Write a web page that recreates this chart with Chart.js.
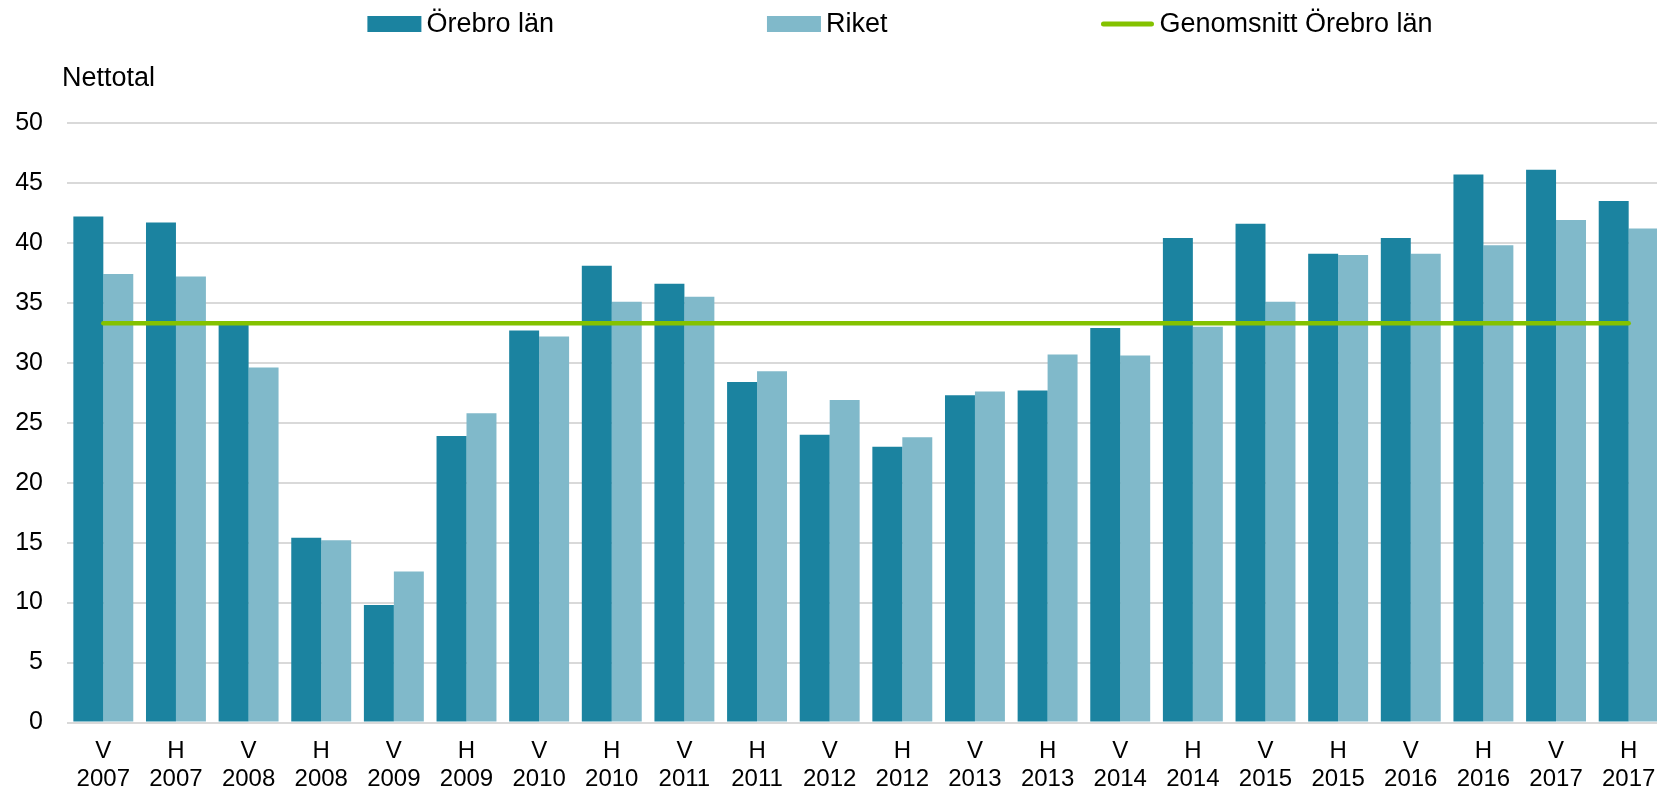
<!DOCTYPE html>
<html lang="sv">
<head>
<meta charset="utf-8">
<title>Nettotal – Örebro län och riket</title>
<script src="https://cdn.jsdelivr.net/npm/chart.js@4.4.1/dist/chart.umd.min.js"></script>
<style>
  html, body { margin: 0; padding: 0; background: #fff; overflow: hidden; }
  #chart { display: block; }
</style>
</head>
<body>
<canvas id="chart" width="1665" height="792"></canvas>
<script>
// Halvår (V = vår, H = höst) och år
const perioder = [
  ['V', '2007'], ['H', '2007'], ['V', '2008'], ['H', '2008'], ['V', '2009'], ['H', '2009'],
  ['V', '2010'], ['H', '2010'], ['V', '2011'], ['H', '2011'], ['V', '2012'], ['H', '2012'],
  ['V', '2013'], ['H', '2013'], ['V', '2014'], ['H', '2014'], ['V', '2015'], ['H', '2015'],
  ['V', '2016'], ['H', '2016'], ['V', '2017'], ['H', '2017']
];

const orebroLan = [42.2, 41.7, 33.3, 15.4, 9.8, 23.9, 32.7, 38.1, 36.6, 28.4, 24.0,
  23.0, 27.3, 27.7, 32.9, 40.4, 41.6, 39.1, 40.4, 45.7, 46.1, 43.5];

const riket = [37.4, 37.2, 29.6, 15.2, 12.6, 25.8, 32.2, 35.1, 35.5, 29.3, 26.9,
  23.8, 27.6, 30.7, 30.6, 33.0, 35.1, 39.0, 39.1, 39.8, 41.9, 41.2];

const genomsnittOrebro = [33.3, 33.3, 33.3, 33.3, 33.3, 33.3, 33.3, 33.3, 33.3, 33.3, 33.3,
  33.3, 33.3, 33.3, 33.3, 33.3, 33.3, 33.3, 33.3, 33.3, 33.3, 33.3];

const yMin = 0;
const yMax = 50;
const yStep = 5;

const FONT = '"Liberation Sans", Arial, sans-serif';

// Legend och "Nettotal" ritas för hand
const egenText = {
  id: 'egenText',
  afterDraw(chart) {
    const ctx = chart.ctx;
    ctx.save();
    ctx.font = '27px ' + FONT;
    ctx.fillStyle = '#000';
    ctx.textBaseline = 'middle';
    ctx.textAlign = 'left';

    ctx.fillText('Nettotal', 62, 79);

    const swatch = 54;
    const gap = 5;
    const between = 213;
    const items = chart.data.datasets.map(ds => ({
      text: ds.label,
      color: ds.type === 'line' ? ds.borderColor : ds.backgroundColor,
      line: ds.type === 'line',
      w: ctx.measureText(ds.label).width
    }));
    let total = 0;
    items.forEach((it, i) => {
      total += swatch + gap + it.w + (i > 0 ? between : 0);
    });
    let x = 900 - total / 2;
    const y = 24;
    items.forEach(it => {
      if (it.line) {
        ctx.strokeStyle = it.color;
        ctx.lineWidth = 5;
        ctx.lineCap = 'round';
        ctx.beginPath();
        ctx.moveTo(x + 3, y);
        ctx.lineTo(x + swatch - 3, y);
        ctx.stroke();
      } else {
        ctx.fillStyle = it.color;
        ctx.fillRect(x, y - 8, swatch, 16);
      }
      ctx.fillStyle = '#000';
      ctx.fillText(it.text, x + swatch + gap, y + 1);
      x += swatch + gap + it.w + between;
    });
    ctx.restore();
  }
};

const ctx = document.getElementById('chart').getContext('2d');
new Chart(ctx, {
  data: {
    labels: perioder,
    datasets: [
      {
        type: 'bar',
        label: 'Örebro län',
        data: orebroLan,
        backgroundColor: '#1b83a0',
        order: 1
      },
      {
        type: 'bar',
        label: 'Riket',
        data: riket,
        backgroundColor: '#80b9ca',
        order: 2
      },
      {
        type: 'line',
        label: 'Genomsnitt Örebro län',
        data: genomsnittOrebro,
        borderColor: '#84c200',
        borderWidth: 4.5,
        borderCapStyle: 'round',
        pointRadius: 0,
        fill: false,
        order: 0
      }
    ]
  },
  options: {
    responsive: false,
    animation: false,
    layout: { padding: { top: 123, left: 0, right: 0, bottom: 0 } },
    datasets: {
      bar: { categoryPercentage: 0.825, barPercentage: 1.0 }
    },
    plugins: {
      legend: { display: false },
      tooltip: { enabled: false }
    },
    scales: {
      x: {
        afterFit: scale => { scale.height = 69.5; },
        grid: { display: false },
        border: { display: false },
        ticks: {
          color: '#000',
          padding: 7,
          maxRotation: 0,
          autoSkip: false,
          font: { family: FONT, size: 24, lineHeight: 1.15 }
        }
      },
      y: {
        min: yMin,
        max: yMax,
        afterFit: scale => { scale.width = 67; },
        grid: { color: '#d9d9d9', lineWidth: 2, drawTicks: false },
        border: { display: false },
        ticks: {
          stepSize: yStep,
          color: '#000',
          padding: 24,
          font: { family: FONT, size: 25 }
        }
      }
    }
  },
  plugins: [egenText]
});
</script>
</body>
</html>
